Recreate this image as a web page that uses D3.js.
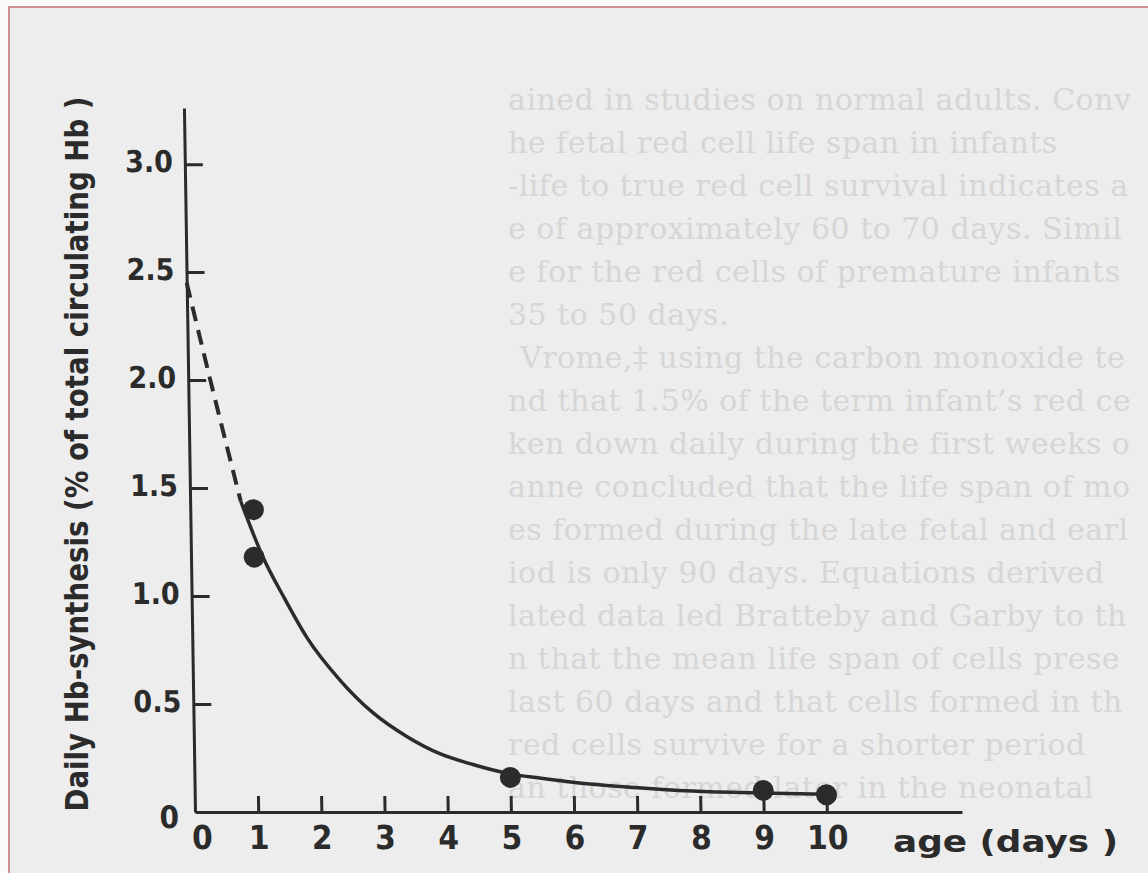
<!DOCTYPE html>
<html>
<head>
<meta charset="utf-8">
<script src="https://cdn.jsdelivr.net/npm/d3@7"></script>
<style>
  html, body { margin: 0; padding: 0; background: #fafafa; }
  svg { display: block; }
</style>
</head>
<body>
<svg id="chart" width="1148" height="873"></svg>
<script>
// measured points (age in days, % of total circulating Hb per day)
const pointDays = [1, 1, 5, 9, 10];
const pointValues = [1.40, 1.18, 0.16, 0.10, 0.08];

// fitted curve, solid part
const curveDays = [0.80, 1.14, 1.45, 1.81, 2.33, 2.84, 3.37, 3.89, 4.41, 4.94, 5.46, 6.09, 6.84, 7.88, 8.94, 10];
const curveValues = [1.44, 1.18, 1.00, 0.81, 0.61, 0.46, 0.35, 0.27, 0.22, 0.18, 0.157, 0.134, 0.116, 0.097, 0.088, 0.083];

// extrapolated part (dashed)
const dashDays = [0, 0.35, 0.80];
const dashValues = [2.45, 2.00, 1.44];

const xTickValues = [0, 1, 2, 3, 4, 5, 6, 7, 8, 9, 10];
const yTickValues = [0.5, 1.0, 1.5, 2.0, 2.5, 3.0];

const yTitle = 'Daily  Hb-synthesis (% of total circulating Hb )';
const xTitle = 'age (days )';

// faint text showing through from the other side of the page
const bgLines = [
  'ained in studies on normal adults. Converse',
  'he fetal red cell life span in infants',
  '-life to true red cell survival indicates an',
  'e of approximately 60 to 70 days. Similarly',
  'e for the red cells of premature infants',
  '35 to 50 days.',
  'Vrome,‡ using the carbon monoxide technique',
  'nd that 1.5% of the term infant\u2019s red cell',
  'ken down daily during the first weeks of',
  'anne concluded that the life span of most',
  'es formed during the late fetal and early',
  'iod is only 90 days. Equations derived',
  'lated data led Bratteby and Garby to the',
  'n that the mean life span of cells present',
  'last 60 days and that cells formed in the',
  'red cells survive for a shorter period',
  'an those formed later in the neonatal'
];

const ink = '#2b2b2b';
const svg = d3.select('#chart');

// page
svg.append('rect')
  .attr('x', 9).attr('y', 7)
  .attr('width', 1160).attr('height', 880)
  .attr('fill', '#ededed')
  .attr('stroke', '#c07070')
  .attr('stroke-width', 1.5);

const bg = svg.append('g')
  .selectAll('text')
  .data(bgLines)
  .enter()
  .append('text')
  .attr('x', (d, i) => i === 6 ? 520 : 508)
  .attr('y', (d, i) => 110 + i * 43)
  .attr('font-family', 'DejaVu Serif, serif')
  .attr('font-size', 30)
  .attr('letter-spacing', 0.5)
  .attr('fill', '#d6d6d6')
  .text(d => d);

// keep the faint lines inside the page
bg.each(function() {
  const t = d3.select(this);
  let s = t.text();
  while (this.getComputedTextLength() > 1138 - (+t.attr('x')) && s.length > 1) {
    s = s.slice(0, -1);
    t.text(s);
  }
});

const x = d3.scaleLinear().domain([0, 12.14]).range([195, 962]);
const y = d3.scaleLinear().domain([0, 3.26]).range([812, 108]);

// the scan is slightly sheared: vertical lines lean left towards the top
const plot = svg.append('g')
  .attr('transform', 'translate(0,812) skewX(0.9) translate(0,-812)');

const xAxis = plot.append('g')
  .attr('transform', 'translate(0,' + y(0) + ')')
  .call(d3.axisBottom(x)
    .tickValues(xTickValues)
    .tickSizeInner(-16)
    .tickSizeOuter(0)
    .tickPadding(14)
    .tickFormat(d3.format('d')));

xAxis.select('.domain').attr('stroke', ink).attr('stroke-width', 3);
xAxis.selectAll('.tick line')
  .attr('stroke', ink).attr('stroke-width', 3)
  .attr('display', d => d === 0 ? 'none' : null);
xAxis.selectAll('.tick text')
  .attr('fill', ink)
  .attr('font-family', 'DejaVu Sans Condensed, DejaVu Sans, sans-serif')
  .attr('font-weight', 'bold')
  .attr('font-size', 33)
  .attr('dx', d => d === 0 ? '0.2em' : 0);

const yAxis = plot.append('g')
  .attr('transform', 'translate(' + x(0) + ',0)')
  .call(d3.axisLeft(y)
    .tickValues(yTickValues)
    .tickSizeInner(-18)
    .tickSizeOuter(0)
    .tickPadding(12)
    .tickFormat(d3.format('.1f')));

yAxis.select('.domain').attr('stroke', ink).attr('stroke-width', 3);
yAxis.selectAll('.tick line').attr('stroke', ink).attr('stroke-width', 3);
yAxis.selectAll('.tick text')
  .attr('fill', ink)
  .attr('font-family', 'DejaVu Sans Condensed, DejaVu Sans, sans-serif')
  .attr('font-weight', 'bold')
  .attr('font-size', 30)
  .attr('dy', '0.24em');

// origin label on the y side
plot.append('text')
  .attr('x', x(0) - 16)
  .attr('y', y(0) + 16)
  .attr('text-anchor', 'end')
  .attr('fill', ink)
  .attr('font-family', 'DejaVu Sans Condensed, DejaVu Sans, sans-serif')
  .attr('font-weight', 'bold')
  .attr('font-size', 31)
  .text('0');

const line = d3.line()
  .x(d => x(d[0]))
  .y(d => y(d[1]))
  .curve(d3.curveMonotoneX);

plot.append('path')
  .datum(d3.zip(dashDays, dashValues))
  .attr('d', line)
  .attr('fill', 'none')
  .attr('stroke', ink)
  .attr('stroke-width', 4)
  .attr('stroke-dasharray', '15,9');

plot.append('path')
  .datum(d3.zip(curveDays, curveValues))
  .attr('d', line)
  .attr('fill', 'none')
  .attr('stroke', ink)
  .attr('stroke-width', 3.5);

plot.append('g')
  .selectAll('circle')
  .data(d3.zip(pointDays, pointValues))
  .enter()
  .append('circle')
  .attr('cx', d => x(d[0]))
  .attr('cy', d => y(d[1]))
  .attr('r', 10.5)
  .attr('fill', ink);

// axis titles
svg.append('text')
  .attr('transform', 'translate(88,454) rotate(-90)')
  .attr('text-anchor', 'middle')
  .attr('textLength', 715)
  .attr('lengthAdjust', 'spacingAndGlyphs')
  .attr('fill', ink)
  .attr('font-family', 'DejaVu Sans Condensed, DejaVu Sans, sans-serif')
  .attr('font-weight', 'bold')
  .attr('font-size', 32)
  .text(yTitle);

svg.append('text')
  .attr('x', 893)
  .attr('y', 852)
  .attr('textLength', 225)
  .attr('lengthAdjust', 'spacingAndGlyphs')
  .attr('fill', ink)
  .attr('font-family', 'DejaVu Sans, sans-serif')
  .attr('font-weight', 'bold')
  .attr('font-size', 31)
  .text(xTitle);
</script>
</body>
</html>
